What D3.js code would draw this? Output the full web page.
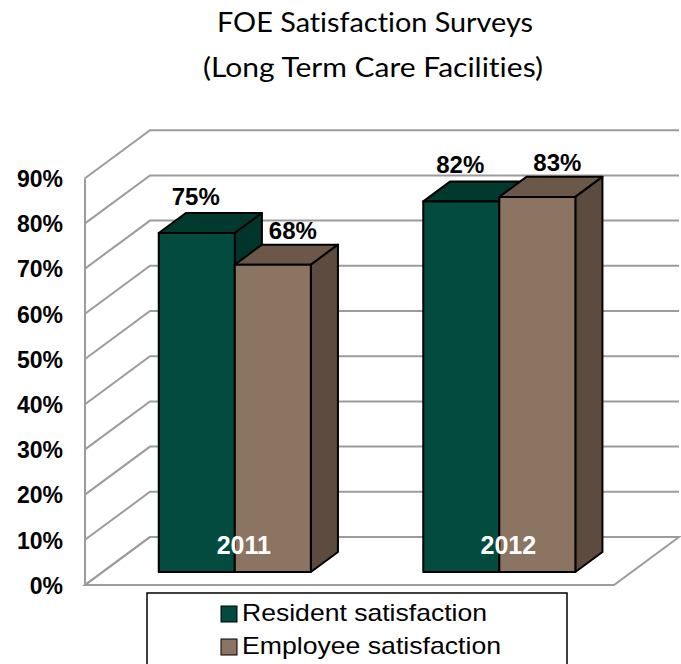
<!DOCTYPE html>
<html>
<head>
<meta charset="UTF-8">
<title>FOE Satisfaction Surveys</title>
<script src="https://d3js.org/d3.v7.min.js"></script>
<style>
  body { margin: 0; background: #fff; }
  svg { display: block; }
  text { font-variant-ligatures: none; font-feature-settings: "liga" 0, "clig" 0; }
</style>
</head>
<body>
<script>
// data
var categories = ["2011", "2012"];
var seriesNames = ["Resident satisfaction", "Employee satisfaction"];
var resident = [75, 82];
var employee = [68, 83];
var yTicks = [0, 10, 20, 30, 40, 50, 60, 70, 80, 90];

var width = 681, height = 664;
var frontFill = ["#034b3e", "#8b7461"];
var topFill = ["#02392f", "#6b5848"];
var sideFill = ["#01342a", "#5c4b3e"];
var arial = "'Liberation Sans', Arial, sans-serif";

// 3d box layout
var ox = 85, oy = 585;       // front-left corner of floor
var depthX = 65, depthY = -48;
var plotW = 529;
var barZ0 = 0.27, barZ1 = 0.687;

var svg = d3.select("body").append("svg")
  .attr("width", width)
  .attr("height", height);

var y = d3.scaleLinear().domain([0, 90]).range([0, 406.8]);
var x0 = d3.scaleBand().domain(categories).range([0, plotW])
  .paddingInner(0.425).paddingOuter(0.2125);
var x1 = d3.scaleBand().domain(seriesNames).range([0, x0.bandwidth()]);

function P(x, v, z) {
  return [ox + x + depthX * z, oy - y(v) + depthY * z];
}
function poly(pts) { return pts.map(p => p.join(",")).join(" "); }

// title
var title = svg.append("g")
  .attr("font-family", "Lato, 'Open Sans', sans-serif")
  .attr("font-size", 26)
  .attr("fill", "#000")
  .attr("text-anchor", "middle");
title.append("text").attr("x", 375).attr("y", 32)
  .attr("textLength", 316).attr("lengthAdjust", "spacingAndGlyphs")
  .text("FOE Satisfaction Surveys");
title.append("text").attr("x", 373).attr("y", 77)
  .attr("textLength", 340).attr("lengthAdjust", "spacingAndGlyphs")
  .text("(Long Term Care Facilities)");

// walls and gridlines
var grid = svg.append("g")
  .attr("stroke", "#9c9c9c")
  .attr("stroke-width", 2)
  .attr("fill", "none");

grid.append("polygon")
  .attr("points", poly([P(0, 0, 0), P(plotW, 0, 0), P(plotW, 0, 1), P(0, 0, 1)]));

yTicks.forEach(v => {
  grid.append("polyline")
    .attr("points", poly([P(0, v, 0), P(0, v, 1), P(plotW, v, 1)]));
});
grid.append("line")
  .attr("x1", P(0, 0, 0)[0]).attr("y1", P(0, 0, 0)[1])
  .attr("x2", P(0, 90, 0)[0]).attr("y2", P(0, 90, 0)[1]);

// y axis labels
var yAxisScale = d3.scaleLinear().domain([0, 90]).range([oy - y(0), oy - y(90)]);
var yAxis = svg.append("g")
  .attr("transform", "translate(63,1)")
  .call(d3.axisLeft(yAxisScale).tickValues(yTicks).tickSize(0).tickPadding(0)
    .tickFormat(d => d + "%"));
yAxis.select(".domain").remove();
yAxis.attr("font-family", arial).attr("font-size", 23);
yAxis.selectAll("text")
  .attr("font-weight", "bold")
  .attr("fill", "#000");

// bars
var values = [resident, employee];
var bars = svg.append("g")
  .attr("stroke", "#000")
  .attr("stroke-width", 2)
  .attr("stroke-linejoin", "round");

categories.forEach((c, ci) => {
  seriesNames.forEach((s, si) => {
    var v = values[si][ci];
    var xa = x0(c) + x1(s);
    var xb = xa + x1.bandwidth();
    var g = bars.append("g");
    g.append("polygon").attr("fill", topFill[si])
      .attr("points", poly([P(xa, v, barZ0), P(xb, v, barZ0), P(xb, v, barZ1), P(xa, v, barZ1)]));
    g.append("polygon").attr("fill", sideFill[si])
      .attr("points", poly([P(xb, 0, barZ0), P(xb, v, barZ0), P(xb, v, barZ1), P(xb, 0, barZ1)]));
    g.append("polygon").attr("fill", frontFill[si])
      .attr("points", poly([P(xa, 0, barZ0), P(xb, 0, barZ0), P(xb, v, barZ0), P(xa, v, barZ0)]));
  });
});

// data labels
var labelOff = [[-1, -28], [20, -26]];
var labels = svg.append("g")
  .attr("font-family", arial)
  .attr("font-size", 24)
  .attr("font-weight", "bold")
  .attr("text-anchor", "middle");
categories.forEach((c, ci) => {
  seriesNames.forEach((s, si) => {
    var v = values[si][ci];
    var p = P(x0(c) + x1(s) + x1.bandwidth() / 2, v, barZ0);
    labels.append("text")
      .attr("x", p[0] + labelOff[si][0])
      .attr("y", p[1] + labelOff[si][1])
      .text(v + "%");
  });
});

// category labels
svg.append("g")
  .selectAll("text")
  .data(categories)
  .enter().append("text")
  .attr("x", d => P(x0(d) + x0.bandwidth() / 2, 0, barZ0)[0] + 9)
  .attr("y", 554)
  .attr("text-anchor", "middle")
  .attr("font-family", arial)
  .attr("font-size", 25)
  .attr("font-weight", "bold")
  .attr("fill", "#fff")
  .text(d => d);

// legend
var legendLen = [245, 259];
var legend = svg.append("g");
legend.append("rect")
  .attr("x", 147).attr("y", 593)
  .attr("width", 420).attr("height", 80)
  .attr("fill", "#fff")
  .attr("stroke", "#000")
  .attr("stroke-width", 1.5);
seriesNames.forEach((s, i) => {
  var ly = 606 + i * 33;
  legend.append("rect")
    .attr("x", 221).attr("y", ly)
    .attr("width", 16).attr("height", 16)
    .attr("fill", frontFill[i])
    .attr("stroke", "#000")
    .attr("stroke-width", 1);
  legend.append("text")
    .attr("x", 242).attr("y", ly + 15)
    .attr("font-family", arial)
    .attr("font-size", 24)
    .attr("fill", "#000")
    .attr("textLength", legendLen[i])
    .attr("lengthAdjust", "spacingAndGlyphs")
    .text(s);
});
</script>
</body>
</html>
